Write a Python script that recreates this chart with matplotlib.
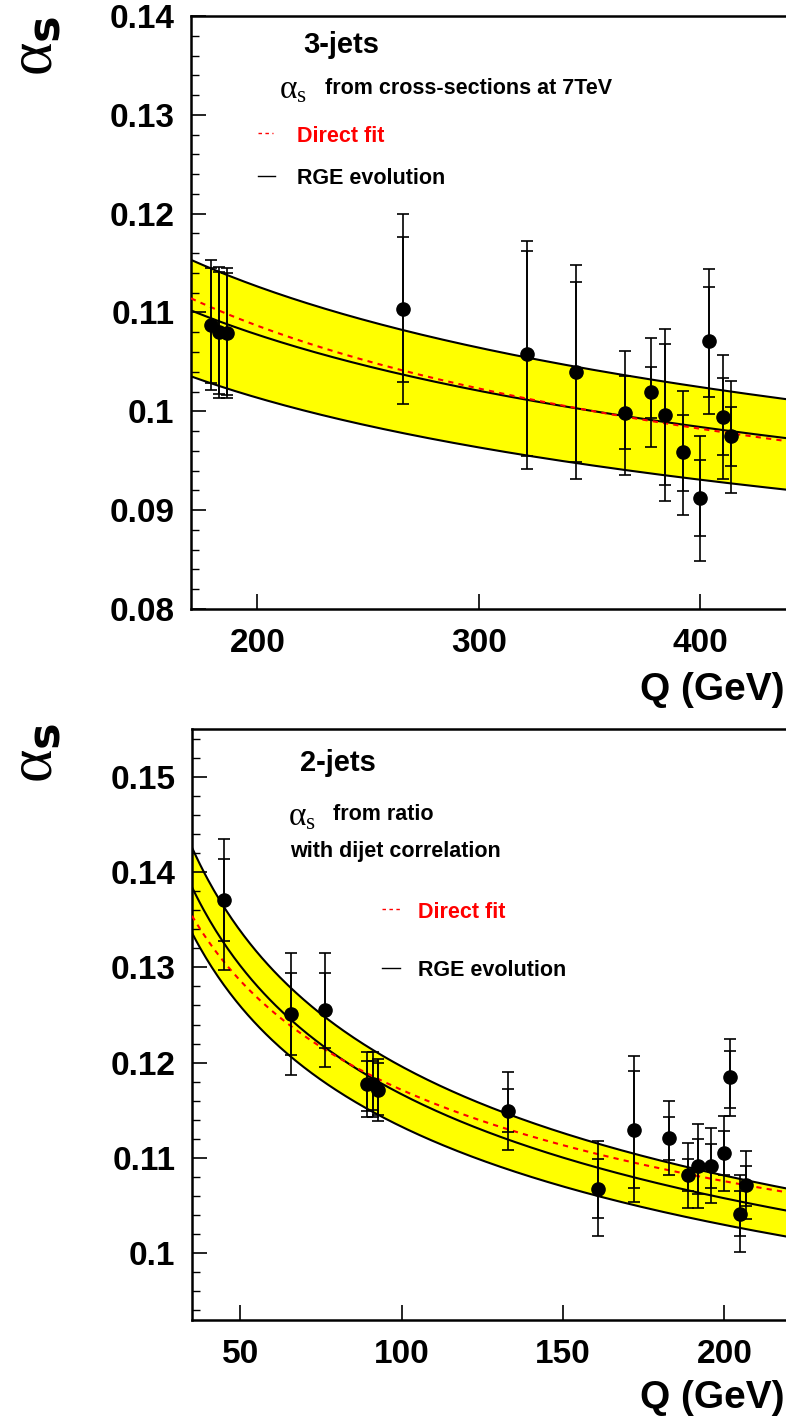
import numpy as np
import matplotlib
matplotlib.use("Agg")
import matplotlib.pyplot as plt
from matplotlib.lines import Line2D
from matplotlib.ticker import MultipleLocator, FuncFormatter

plt.rcParams["font.family"] = ["Liberation Sans", "DejaVu Sans"]
plt.rcParams["mathtext.fontset"] = "custom"
plt.rcParams["mathtext.rm"] = "Liberation Serif"
plt.rcParams["mathtext.it"] = "Liberation Serif"

MZ = 91.19

# upper panel: three-jet measurements
q_top = [179.0, 182.6, 186.2, 265.7, 321.9, 343.8, 365.9, 377.9, 384.0, 392.1,
         399.8, 404.1, 410.2, 413.8]
a_top = [0.10872, 0.10801, 0.10791, 0.11034, 0.10578, 0.10396, 0.09985, 0.10193,
         0.09960, 0.09585, 0.09119, 0.10710, 0.09944, 0.09748]
tot_up_top = [0.0066, 0.0066, 0.0066, 0.0096, 0.0115, 0.0108, 0.0063, 0.0055,
              0.0087, 0.0062, 0.0063, 0.0073, 0.0063, 0.0056]
tot_dn_top = [0.0066, 0.0067, 0.0066, 0.0096, 0.0116, 0.0108, 0.0063, 0.0055,
              0.0087, 0.0063, 0.0063, 0.0074, 0.0063, 0.0057]
stat_up_top = [0.0058, 0.0061, 0.0061, 0.0073, 0.0104, 0.0091, 0.0037, 0.0026,
               0.0072, 0.0038, 0.0039, 0.0055, 0.0039, 0.0030]
stat_dn_top = [0.0059, 0.0063, 0.0063, 0.0074, 0.0103, 0.0091, 0.0037, 0.0026,
               0.0071, 0.0039, 0.0038, 0.0056, 0.0039, 0.0030]

# lower panel: dijet measurements
q_bot = [45.0, 65.8, 76.3, 89.2, 91.2, 92.7, 132.8, 160.8, 171.9, 182.8, 188.8,
         191.8, 195.9, 200.0, 201.8, 204.8, 206.7]
a_bot = [0.13704, 0.12509, 0.12551, 0.11772, 0.11779, 0.11716, 0.11496, 0.10678,
         0.11297, 0.11210, 0.10818, 0.10919, 0.10919, 0.11048, 0.11852, 0.10416,
         0.10717]
tot_up_bot = [0.0064, 0.0064, 0.0060, 0.0034, 0.0033, 0.0032, 0.0041, 0.0050,
              0.0077, 0.0039, 0.0034, 0.0044, 0.0039, 0.0039, 0.0040, 0.0040,
              0.0036]
tot_dn_bot = [0.0073, 0.0064, 0.0060, 0.0034, 0.0035, 0.0033, 0.0041, 0.0050,
              0.0076, 0.0039, 0.0034, 0.0044, 0.0039, 0.0039, 0.0041, 0.0040,
              0.0036]
stat_up_bot = [0.0043, 0.0043, 0.0039, 0.0025, 0.0024, 0.0028, 0.0023, 0.0031,
               0.0061, 0.0022, 0.0017, 0.0028, 0.0023, 0.0023, 0.0027, 0.0024,
               0.0020]
stat_dn_bot = [0.0043, 0.0043, 0.0040, 0.0028, 0.0028, 0.0027, 0.0022, 0.0031,
               0.0061, 0.0023, 0.0016, 0.0030, 0.0023, 0.0023, 0.0033, 0.0023,
               0.0022]

# alpha_s(MZ) for RGE band: central, upper, lower
band_top = [0.1208, 0.1270, 0.1128]
band_bot = [0.1183, 0.1213, 0.1148]
# direct fit: alpha_s at MZ and slope of 1/alpha_s in ln Q
fit_top = [0.12351, 1.409]
fit_bot = [0.11854, 1.097]

xlim_top, xlim_bot = (170, 440), (35, 220)
ylim_top, ylim_bot = (0.08, 0.14), (0.093, 0.155)
xticks_top = [200, 300, 400]
xticks_bot = [50, 100, 150, 200]


def alpha_2loop(q, a0, nf=5):
    b0 = (33 - 2 * nf) / (12 * np.pi)
    b1 = (153 - 19 * nf) / (24 * np.pi ** 2)
    x = a0 * b0 * np.log(q ** 2 / MZ ** 2)
    return a0 / (1 + x + b1 / b0 * a0 * np.log(1 + x))


def alpha_fit(q, a0, k):
    return 1.0 / (1.0 / a0 + k * np.log(q / MZ))


def px(x, y):
    return x / 786, 1 - y / 1420


fig = plt.figure(figsize=(7.86, 14.2), dpi=100)
ax_top = fig.add_axes([191 / 786, 1 - 609 / 1420, 598 / 786, 593 / 1420])
ax_bot = fig.add_axes([192 / 786, 1 - 1320 / 1420, 597 / 786, 591 / 1420])


def draw_panel(ax, q, a, tu, td, su, sd, band, fit, xlim, ylim, xticks):
    qq = np.linspace(xlim[0], xlim[1], 300)
    mid = alpha_2loop(qq, band[0])
    hi = alpha_2loop(qq, band[1])
    lo = alpha_2loop(qq, band[2])
    ax.fill_between(qq, lo, hi, color="#ffff00", lw=0, zorder=1)
    for c in (hi, mid, lo):
        ax.plot(qq, c, color="black", lw=1.5, zorder=2)
    ax.plot(qq, alpha_fit(qq, *fit), color="red", lw=1.5, ls=(0, (2.5, 2.5)),
            zorder=3)

    ax.errorbar(q, a, yerr=[td, tu], fmt="none", ecolor="black", elinewidth=1.2,
                capsize=4.5, capthick=1.2, zorder=4)
    ax.errorbar(q, a, yerr=[sd, su], fmt="none", ecolor="black", elinewidth=1.2,
                capsize=4.5, capthick=1.2, zorder=4)
    ax.plot(q, a, "o", color="black", ms=9.5, zorder=5)

    ax.set_xlim(*xlim)
    ax.set_ylim(*ylim)
    ax.set_xticks(xticks)
    ax.yaxis.set_major_locator(MultipleLocator(0.01))
    ax.yaxis.set_minor_locator(MultipleLocator(0.002))
    ax.yaxis.set_major_formatter(FuncFormatter(lambda v, p: f"{v:g}"))
    ax.tick_params(axis="y", which="major", direction="in", length=11, width=1.2,
                   pad=12, labelsize=24, right=False)
    ax.tick_params(axis="y", which="minor", direction="in", length=6, width=1.0,
                   right=False)
    ax.tick_params(axis="x", which="major", direction="in", length=11, width=1.2,
                   pad=14, labelsize=24, top=False)
    for lab in ax.get_xticklabels() + ax.get_yticklabels():
        lab.set_fontweight("bold")
    for s in ax.spines.values():
        s.set_linewidth(1.8)


draw_panel(ax_top, q_top, a_top, tot_up_top, tot_dn_top, stat_up_top, stat_dn_top,
           band_top, fit_top, xlim_top, ylim_top, xticks_top)
draw_panel(ax_bot, q_bot, a_bot, tot_up_bot, tot_dn_bot, stat_up_bot, stat_dn_bot,
           band_bot, fit_bot, xlim_bot, ylim_bot, xticks_bot)

# axis titles
for yc in (46, 753):
    fig.text(*px(36, yc), r"$\mathrm{\alpha}_{\mathbf{s}}$", rotation=90,
             fontsize=46, ha="center", va="center")
for yc in (690, 1398):
    fig.text(*px(785, yc), "Q (GeV)", fontsize=28, fontweight="bold",
             ha="right", va="center")

# upper panel labels
fig.text(*px(303, 45), "3-jets", fontsize=21, fontweight="bold", va="center")
fig.text(*px(279, 90), r"$\mathrm{\alpha}_{s}$", fontsize=24, va="center")
fig.text(*px(325, 88), "from cross-sections at 7TeV", fontsize=15.5,
         fontweight="bold", va="center")
fig.add_artist(Line2D([258 / 786, 273 / 786], [1 - 133 / 1420] * 2, color="red",
                      lw=1, ls=(0, (2.5, 2.5))))
fig.text(*px(297, 137), "Direct fit", fontsize=15.5, fontweight="bold",
         color="red", va="center")
fig.add_artist(Line2D([258 / 786, 275 / 786], [1 - 176 / 1420] * 2, color="black",
                      lw=1))
fig.text(*px(297, 178), "RGE evolution", fontsize=15.5, fontweight="bold",
         va="center")

# lower panel labels
fig.text(*px(300, 763), "2-jets", fontsize=21, fontweight="bold", va="center")
fig.text(*px(288, 817), r"$\mathrm{\alpha}_{s}$", fontsize=24, va="center")
fig.text(*px(333, 815), "from ratio", fontsize=15.5, fontweight="bold",
         va="center")
fig.text(*px(290, 852), "with dijet correlation", fontsize=15.5,
         fontweight="bold", va="center")
fig.add_artist(Line2D([382 / 786, 400 / 786], [1 - 909 / 1420] * 2, color="red",
                      lw=1, ls=(0, (2.5, 2.5))))
fig.text(*px(418, 912), "Direct fit", fontsize=15.5, fontweight="bold",
         color="red", va="center")
fig.add_artist(Line2D([382 / 786, 400 / 786], [1 - 968 / 1420] * 2, color="black",
                      lw=1))
fig.text(*px(418, 970), "RGE evolution", fontsize=15.5, fontweight="bold",
         va="center")

fig.savefig("out.png", dpi=100)
